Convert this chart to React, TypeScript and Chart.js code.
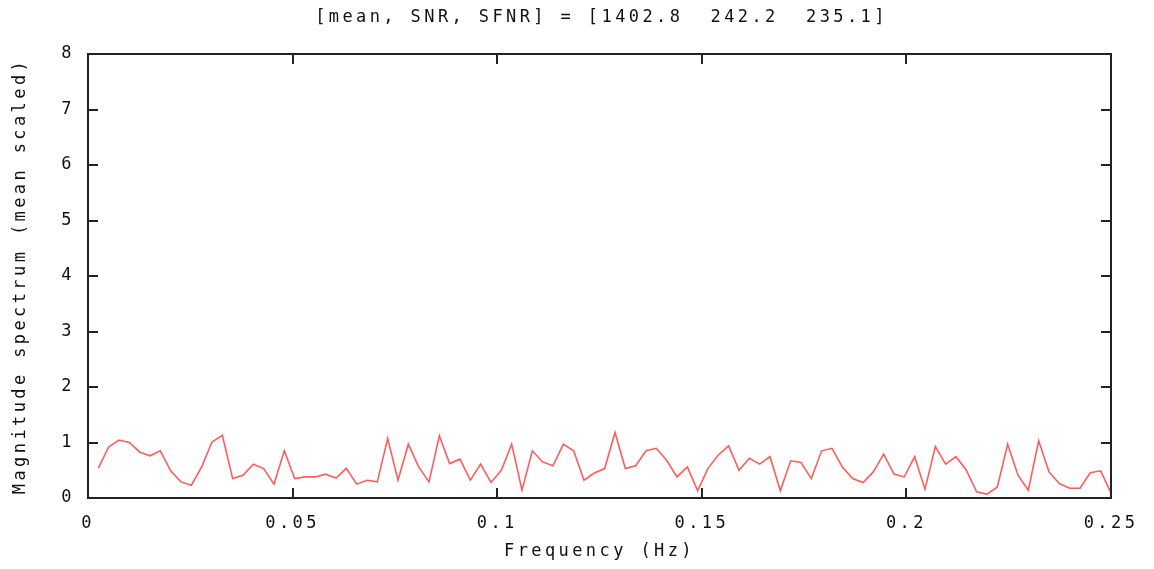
import React, { useEffect, useRef } from "react";
import { Chart, registerables } from "chart.js";

Chart.register(...registerables);

const titleText = "[mean, SNR, SFNR] = [1402.8  242.2  235.1]";
const xAxisTitle = "Frequency (Hz)";
const yAxisTitle = "Magnitude spectrum (mean scaled)";

const xTickValues = [0, 0.05, 0.1, 0.15, 0.2, 0.25];
const xTickLabels = ["0", "0.05", "0.1", "0.15", "0.2", "0.25"];
const yTickValues = [0, 1, 2, 3, 4, 5, 6, 7, 8];
const yTickLabels = ["0", "1", "2", "3", "4", "5", "6", "7", "8"];

const binCount = 99;
const maxFrequency = 0.25;
const frequencies = Array.from({ length: binCount }, (_, i) => ((i + 1) * maxFrequency) / binCount);

const magnitude = [
  0.54, 0.92, 1.045, 1.0, 0.83, 0.76, 0.85, 0.49, 0.29, 0.23,
  0.56, 1.01, 1.13, 0.35, 0.41, 0.61, 0.53, 0.25, 0.85, 0.35,
  0.38, 0.38, 0.43, 0.36, 0.535, 0.25, 0.32, 0.29, 1.075, 0.32,
  0.97, 0.56, 0.29, 1.12, 0.62, 0.7, 0.32, 0.61, 0.28, 0.5,
  0.97, 0.14, 0.85, 0.65, 0.58, 0.97, 0.85, 0.32, 0.45, 0.53,
  1.18, 0.53, 0.58, 0.85, 0.895, 0.68, 0.38, 0.56, 0.13, 0.535,
  0.775, 0.94, 0.5, 0.715, 0.61, 0.745, 0.13, 0.67, 0.64, 0.35,
  0.85, 0.895, 0.56, 0.35, 0.28, 0.47, 0.79, 0.43, 0.38, 0.745,
  0.16, 0.925, 0.61, 0.745, 0.5, 0.11, 0.07, 0.2, 0.97, 0.41,
  0.14, 1.03, 0.47, 0.26, 0.175, 0.175, 0.455, 0.49, 0.09,
];

const FONT_FAMILY = "'DejaVu Sans Mono', monospace";
const FONT_SIZE = 17;
const LETTER_SPACING = "3.4px";
const TEXT_COLOR = "#111";
const BORDER_COLOR = "#222";

const framePlugin = {
  id: "gnuplotFrame",
  beforeDraw(chart: any) {
    const ctx = chart.ctx;
    ctx.letterSpacing = LETTER_SPACING;
    ctx.fillStyle = "#fff";
    ctx.fillRect(0, 0, chart.width, chart.height);
  },
  afterDraw(chart: any) {
    const ctx = chart.ctx;
    const { left, right, top, bottom } = chart.chartArea;
    const xs = chart.scales.x;
    const ys = chart.scales.y;
    const tickLen = 10;
    ctx.save();
    ctx.strokeStyle = BORDER_COLOR;
    ctx.lineWidth = 2;
    ctx.beginPath();
    ctx.rect(left, top, right - left, bottom - top);
    ctx.stroke();
    ctx.beginPath();
    xTickValues.forEach((v) => {
      if (v <= xs.min || v >= xs.max) return;
      const px = Math.round(xs.getPixelForValue(v));
      ctx.moveTo(px, bottom);
      ctx.lineTo(px, bottom - tickLen);
      ctx.moveTo(px, top);
      ctx.lineTo(px, top + tickLen);
    });
    yTickValues.forEach((v) => {
      if (v <= ys.min || v >= ys.max) return;
      const py = Math.round(ys.getPixelForValue(v));
      ctx.moveTo(left, py);
      ctx.lineTo(left + tickLen, py);
      ctx.moveTo(right, py);
      ctx.lineTo(right - tickLen, py);
    });
    ctx.stroke();
    // chart title
    ctx.fillStyle = TEXT_COLOR;
    ctx.font = `${FONT_SIZE}px ${FONT_FAMILY}`;
    ctx.letterSpacing = LETTER_SPACING;
    ctx.textAlign = "center";
    ctx.textBaseline = "middle";
    ctx.fillText(titleText, (left + right) / 2 + 2, 18);
    ctx.restore();
  },
};

export default function App() {
  const canvasRef = useRef<HTMLCanvasElement | null>(null);

  useEffect(() => {
    if (!canvasRef.current) return;
    const points = frequencies.map((f, i) => ({ x: f, y: magnitude[i] }));
    const chart = new Chart(canvasRef.current, {
      type: "line",
      data: {
        datasets: [
          {
            data: points,
            borderColor: "#ff5c5c",
            borderWidth: 1.6,
            pointRadius: 0,
            tension: 0,
            fill: false,
          },
        ],
      },
      options: {
        animation: false,
        responsive: false,
        layout: { padding: { top: 54, right: 43, left: 0, bottom: 0 } },
        plugins: {
          legend: { display: false },
          tooltip: { enabled: false },
          title: { display: false },
        },
        scales: {
          x: {
            type: "linear",
            min: 0,
            max: 0.25,
            grid: { display: false, drawTicks: false },
            border: { display: false },
            afterBuildTicks: (scale: any) => {
              scale.ticks = xTickValues.map((v) => ({ value: v }));
            },
            afterFit: (scale: any) => {
              scale.height = 71;
            },
            ticks: {
              autoSkip: false,
              maxRotation: 0,
              padding: 15,
              color: TEXT_COLOR,
              font: { family: FONT_FAMILY, size: FONT_SIZE },
              callback: (_v: any, i: number) => xTickLabels[i],
            },
            title: {
              display: true,
              text: xAxisTitle,
              color: TEXT_COLOR,
              font: { family: FONT_FAMILY, size: FONT_SIZE },
              padding: { top: 0, bottom: 7 },
            },
          },
          y: {
            type: "linear",
            min: 0,
            max: 8,
            grid: { display: false, drawTicks: false },
            border: { display: false },
            afterBuildTicks: (scale: any) => {
              scale.ticks = yTickValues.map((v) => ({ value: v }));
            },
            afterFit: (scale: any) => {
              scale.width = 88;
            },
            ticks: {
              padding: 13,
              color: TEXT_COLOR,
              font: { family: FONT_FAMILY, size: FONT_SIZE },
              callback: (_v: any, i: number) => yTickLabels[i],
            },
            title: {
              display: true,
              text: yAxisTitle,
              color: TEXT_COLOR,
              font: { family: FONT_FAMILY, size: FONT_SIZE },
              padding: { top: 10, bottom: 0 },
            },
          },
        },
      },
      plugins: [framePlugin],
    });
    return () => chart.destroy();
  }, []);

  return (
    <div style={{ position: "absolute", left: 0, top: 0, width: 1154, height: 569, background: "#fff" }}>
      <canvas ref={canvasRef} width={1154} height={569} />
    </div>
  );
}
